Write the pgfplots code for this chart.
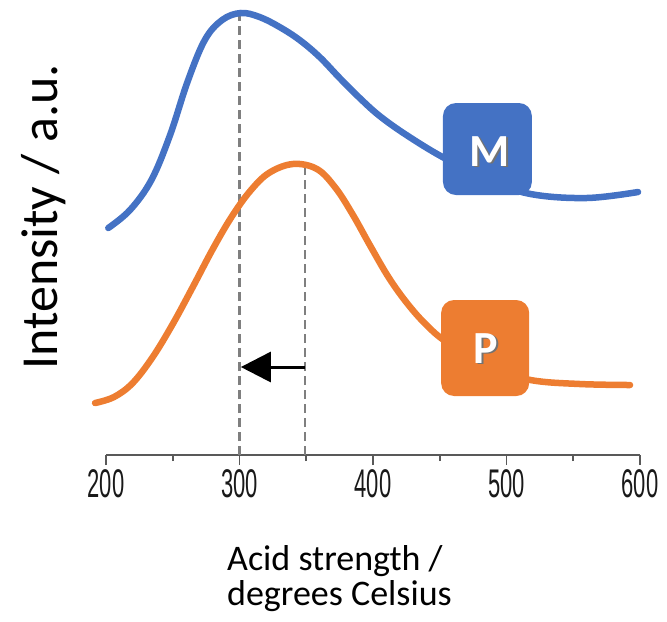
\documentclass[border=0pt]{standalone}
\usepackage{pgfplots}
\pgfplotsset{compat=1.18}
\usepackage{fontspec}
\setmainfont{Carlito}
\newfontfamily\narrowfont[FakeStretch=0.55]{Liberation Sans}
\usetikzlibrary{arrows.meta}
\definecolor{mblue}{HTML}{4472C4}
\definecolor{porange}{HTML}{ED7D31}
\definecolor{axgray}{HTML}{595959}
\definecolor{dashgray}{HTML}{7F7F7F}
\begin{document}
\begin{tikzpicture}
\begin{axis}[
  scale only axis, width=534pt, height=445pt,
  xmin=200, xmax=600, ymin=0, ymax=445,
  clip=false,
  axis x line=bottom, axis y line=none,
  x axis line style={-, line width=1.8pt, color=axgray},
  xtick={200,300,400,500,600},
  minor xtick={250,350,450,550},
  tick align=outside,
  major tick length=10pt, minor tick length=6pt,
  every tick/.style={line width=1.8pt, color=axgray},
  /pgf/number format/assume math mode=true,
  xticklabel style={font=\narrowfont\fontsize{40}{42}\selectfont, text=black!90, yshift=-1pt},
]
% dashed guide lines
\addplot[dashgray, line width=2.6pt, dash pattern=on 9pt off 5pt] coordinates {(300,0) (300,441)};
\addplot[dashgray, line width=2.6pt, dash pattern=on 9pt off 5pt] coordinates {(349,0) (349,289)};
% M curve
\addplot[mblue, line width=6.5pt, smooth, tension=0.6, line cap=round] coordinates {
 (201.7,227) (218,245) (234,275) (248,320) (261,373) (274,415) (287,435)
 (301,442) (315,438) (330,428) (345,415) (360,398) (375,377) (390,357)
 (405,339) (425,320) (452,298) (485,276) (518,261) (560,257) (598.5,263)};
% P curve
\addplot[porange, line width=6.5pt, smooth, tension=0.6, line cap=round] coordinates {
 (191.8,52) (206,58) (220,72) (235,98) (250,131) (265,168) (280,206)
 (294,238) (308,264) (322,282) (340,291) (358,286) (372,267) (385,240)
 (398,209) (412,177) (426,151) (440,130) (455,113) (485,88)
 (518,75) (555,71) (592.5,70)};
% arrow
\draw[black, line width=3pt, -{Triangle[length=30pt,width=30pt]}] (axis cs:349,88) -- (axis cs:301,88);
% boxes
\fill[mblue, rounded corners=13pt] (axis cs:452.4,260) rectangle (axis cs:519,352);
\node[text=black!55, font=\bfseries\fontsize{46}{48}\selectfont] at (axis cs:488.8,302.1) {M};
\node[text=white, font=\bfseries\fontsize{46}{48}\selectfont] at (axis cs:487.6,303.3) {M};
\fill[porange, rounded corners=13pt] (axis cs:451,59) rectangle (axis cs:517,155);
\node[text=black!55, font=\bfseries\fontsize{46}{48}\selectfont] at (axis cs:485.8,105.5) {P};
\node[text=white, font=\bfseries\fontsize{46}{48}\selectfont] at (axis cs:484.6,106.7) {P};
% labels
\node[rotate=90, anchor=base, font=\fontsize{52}{56}\selectfont] at (axis cs:163.3,238) {Intensity / a.u.};
\node[anchor=base west, font=\fontsize{36}{40}\selectfont, inner sep=0pt] at (axis cs:290.6,-115) {Acid strength /};
\node[anchor=base west, font=\fontsize{36}{40}\selectfont, inner sep=0pt] at (axis cs:290.6,-150) {degrees Celsius};
\coordinate (bl) at (axis cs:120.6,-166);
\coordinate (tr) at (axis cs:620.2,455);
\end{axis}
\pgfresetboundingbox
\path[use as bounding box] (bl) rectangle (tr);
\end{tikzpicture}
\end{document}
